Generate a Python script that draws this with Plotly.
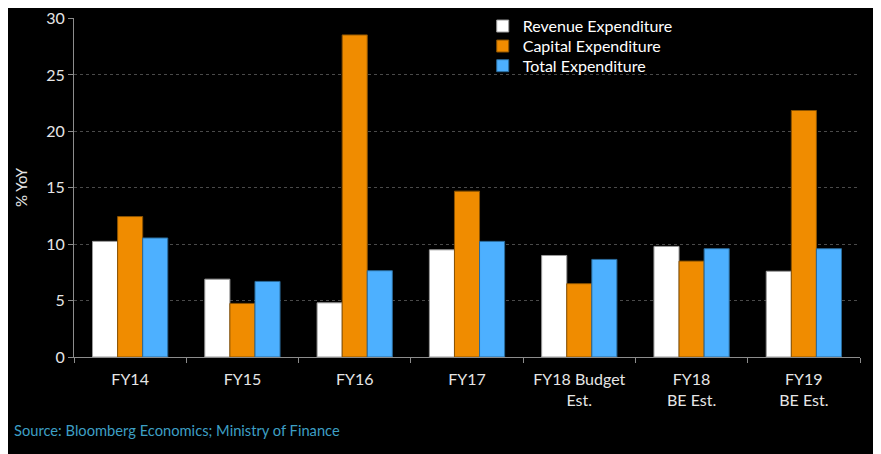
import plotly.graph_objects as go

# % YoY growth
categories = ["FY14", "FY15", "FY16", "FY17", "FY18 Budget<br>Est.", "FY18<br>BE Est.", "FY19<br>BE Est."]
revenue_exp = [10.25, 6.9, 4.8, 9.5, 9.0, 9.8, 7.6]
capital_exp = [12.45, 4.75, 28.55, 14.7, 6.5, 8.5, 21.85]
total_exp = [10.55, 6.7, 7.65, 10.25, 8.65, 9.6, 9.6]

FONT = "Lato"

fig = go.Figure()
fig.add_trace(go.Bar(name="Revenue Expenditure", x=categories, y=revenue_exp, legend="legend",
                     marker=dict(color="#ffffff", line=dict(color="#9a9a9a", width=1))))
fig.add_trace(go.Bar(name="Capital Expenditure", x=categories, y=capital_exp, legend="legend2",
                     marker=dict(color="#f08c00", line=dict(color="#8a5200", width=1))))
fig.add_trace(go.Bar(name="Total Expenditure", x=categories, y=total_exp, legend="legend3",
                     marker=dict(color="#4db0ff", line=dict(color="#2a6a9a", width=1))))

# one legend per row so the rows sit as tightly as in the original
leg = dict(x=0.52, xanchor="left", yanchor="middle", bgcolor="rgba(0,0,0,0)",
           font=dict(size=16, color="#ffffff"), itemwidth=30)

# page body has an 8px margin, so the figure is 8px smaller and shifted
fig.update_layout(
    width=873, height=446,
    paper_bgcolor="#000000", plot_bgcolor="#000000",
    margin=dict(l=66, r=21, t=10, b=97, autoexpand=False),
    barmode="group", bargap=0.33, bargroupgap=0,
    font=dict(family=FONT, size=15, color="#e6e6e6"),
    legend=dict(leg, y=0.976),
    legend2=dict(leg, y=0.917),
    legend3=dict(leg, y=0.859),
    showlegend=True,
)
fig.update_xaxes(
    automargin=False,
    showline=True, linecolor="#8c8c8c", linewidth=1,
    ticks="outside", tickson="boundaries", ticklen=5, tickcolor="#8c8c8c",
    ticklabelstandoff=8,
    showgrid=False, tickfont=dict(size=16, color="#e6e6e6"),
)
fig.update_yaxes(
    automargin=False,
    range=[0, 30.05], dtick=5, ticklabeloverflow="allow",
    showline=True, linecolor="#8c8c8c", linewidth=1,
    ticks="outside", ticklen=5, tickcolor="#8c8c8c",
    showgrid=True, gridcolor="#4a4a4a", griddash="dot", gridwidth=1,
    zeroline=False,
    tickfont=dict(size=16, color="#e6e6e6"),
    title=dict(text="% YoY", font=dict(size=15, color="#e6e6e6"), standoff=14),
)
fig.add_annotation(text="Source: Bloomberg Economics; Ministry of Finance",
                   xref="paper", yref="paper", x=-0.079, y=-0.215,
                   xanchor="left", yanchor="middle", showarrow=False,
                   font=dict(size=14.7, color="#3d9fc4", family=FONT))

fig.write_html("out.html")
